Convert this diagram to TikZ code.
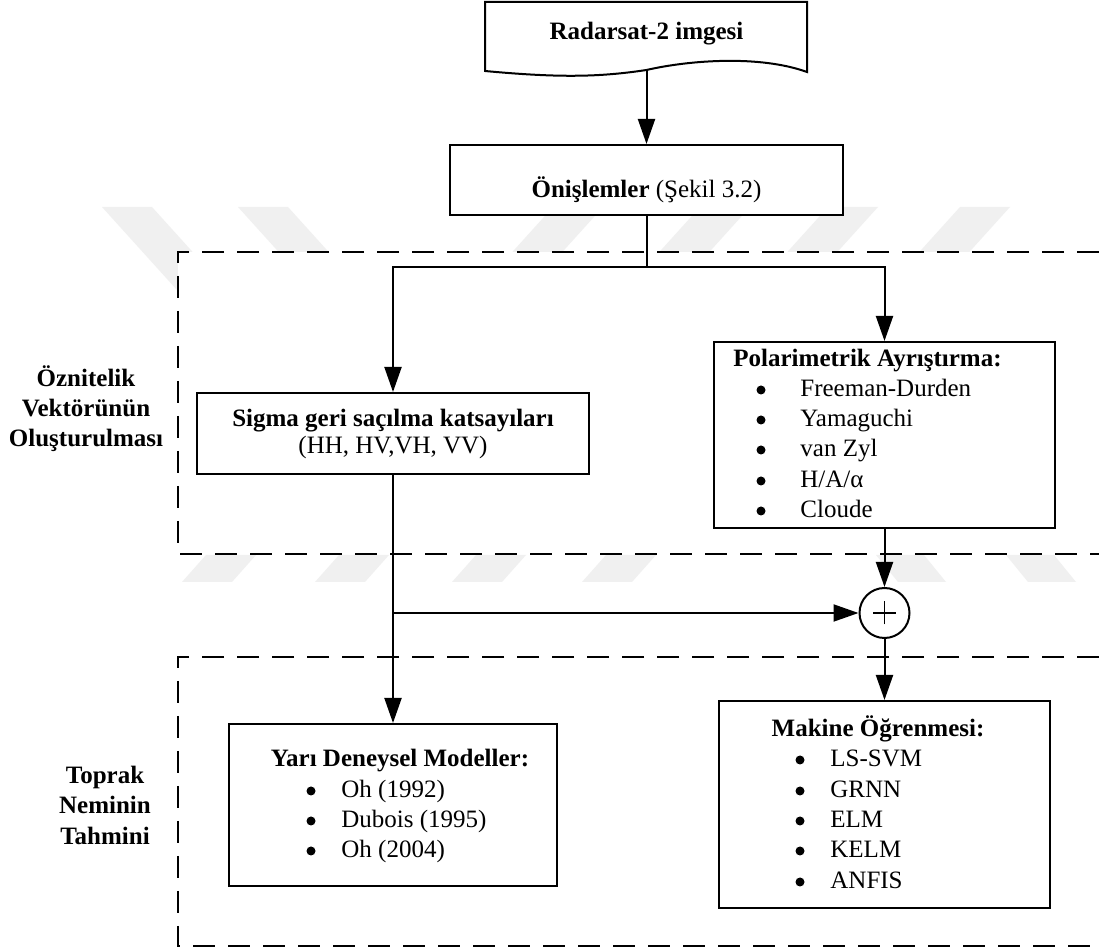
\documentclass[tikz,border=0pt]{standalone}
\usepackage{fontspec}
\setmainfont{Liberation Serif}
\usetikzlibrary{arrows.meta}
\begin{document}
\begin{tikzpicture}[x=0.5pt,y=-0.5pt,
  font=\fontsize{12.5}{15}\selectfont,
  box/.style={draw,line width=1pt,fill=white,inner sep=0pt,rectangle},
  conn/.style={line width=1pt},
  arr/.style={conn,-{Triangle[length=12.5pt,width=8.5pt]}},
  frame/.style={line width=1.4pt,dash pattern=on 11pt off 6.5pt},
  wm/.style={fill=black!6,draw=none},
  lbl/.style={anchor=base,inner sep=0pt,font=\fontsize{12.5}{15}\selectfont\bfseries},
  txt/.style={anchor=base west,inner sep=0pt},
  bul/.style={circle,fill=black,draw=none,inner sep=0pt,minimum size=4.5pt}]
\useasboundingbox[fill=white] (0,0) rectangle (1099,951);

% watermark, top band
\foreach \x in {102,238}
  \fill[wm] (\x,207) -- (\x+50,207) -- (\x+125,290) -- (\x+75,290) -- cycle;
\foreach \x in {553,700,828,960}
  \fill[wm] (\x,207) -- (\x+50,207) -- (\x-25,290) -- (\x-75,290) -- cycle;
\fill[white] (178,252) rectangle (1099,554);
% watermark, bottom band
\foreach \x in {182,315,452,582}
  \fill[wm] (\x,582) -- (\x+50,582) -- (\x+74,555) -- (\x+24,555) -- cycle;
\foreach \x in {876,1006}
  \fill[wm] (\x,555) -- (\x+48,555) -- (\x+70,582) -- (\x+22,582) -- cycle;

% dashed group frames
\draw[frame] (1099,252) -- (178,252) -- (178,554) -- (1099,554);
\draw[frame] (1099,657) -- (178,657) -- (178,946) -- (1099,946);

% Radarsat document shape
\filldraw[fill=white,line width=1pt] (485,71) -- (485,2) -- (807,2) -- (807,72)
  .. controls (760,55) and (690,60) .. (646.5,70)
  .. controls (600,77) and (560,78) .. (485,71) -- cycle;
\coordinate (radbot) at (646.5,70);
\node[lbl] (radtxt) at (646.5,40) {Radarsat-2 imgesi};

% Onislemler
\node[box,minimum width=196.5pt,minimum height=35pt] (oni) at (646.5,180) {};
\node[anchor=base,inner sep=0pt] (onitxt) at (646.5,198) {\textbf{Önişlemler} (Şekil 3.2)};

% Sigma
\node[box,minimum width=196pt,minimum height=40.5pt] (sigma) at (393,433.5) {};
\node[lbl] (sigt) at (393,427) {Sigma geri saçılma katsayıları};
\node[anchor=base,inner sep=0pt] (sigs) at (393,454) {(HH, HV,VH, VV)};

% Polarimetrik
\node[box,minimum width=170.5pt,minimum height=93pt] (polar) at (884.5,435) {};
\node[lbl,anchor=base west] (polt) at (733,367) {Polarimetrik Ayrıştırma:};
\node[bul] (pb1) at (761,390) {};
\node[txt] (pt1) at (800,397) {Freeman-Durden};
\node[bul] (pb2) at (761,420) {};
\node[txt] (pt2) at (800,427) {Yamaguchi};
\node[bul] (pb3) at (761,450) {};
\node[txt] (pt3) at (800,457) {van Zyl};
\node[bul] (pb4) at (761,481) {};
\node[txt] (pt4) at (800,488) {H/A/α};
\node[bul] (pb5) at (761,511) {};
\node[txt] (pt5) at (800,518) {Cloude};

% sum
\node[draw,circle,line width=1pt,minimum size=25pt,inner sep=0pt,fill=white] (sum) at (884.5,613) {};
\draw[line width=0.7pt] ([xshift=-5.75pt]sum.center) -- ([xshift=5.75pt]sum.center);
\draw[line width=0.7pt] ([yshift=-5.75pt]sum.center) -- ([yshift=5.75pt]sum.center);

% Yari deneysel
\node[box,minimum width=164pt,minimum height=81pt] (yari) at (393,805) {};
\node[lbl] (yt) at (400,767) {Yarı Deneysel Modeller:};
\node[bul] (yb1) at (311,791) {};
\node[txt] (yt1) at (341,798) {Oh (1992)};
\node[bul] (yb2) at (311,821) {};
\node[txt] (yt2) at (341,828) {Dubois (1995)};
\node[bul] (yb3) at (311,851) {};
\node[txt] (yt3) at (341,858) {Oh (2004)};

% Makine
\node[box,minimum width=165.5pt,minimum height=103.5pt] (makine) at (884.5,804.5) {};
\node[lbl] (mt) at (878,737) {Makine Öğrenmesi:};
\node[bul] (mb1) at (800,760) {};
\node[txt] (mt1) at (830,767) {LS-SVM};
\node[bul] (mb2) at (800,791) {};
\node[txt] (mt2) at (830,798) {GRNN};
\node[bul] (mb3) at (800,821) {};
\node[txt] (mt3) at (830,828) {ELM};
\node[bul] (mb4) at (800,851) {};
\node[txt] (mt4) at (830,858) {KELM};
\node[bul] (mb5) at (800,882) {};
\node[txt] (mt5) at (830,889) {ANFIS};

% side labels
\node[lbl] (l1) at (86,387) {Öznitelik};
\node[lbl] (l2) at (86,417) {Vektörünün};
\node[lbl] (l3) at (86,447) {Oluşturulması};
\node[lbl] (l4) at (105,784) {Toprak};
\node[lbl] (l5) at (105,814) {Neminin};
\node[lbl] (l6) at (105,845) {Tahmini};

% connectors
\coordinate (split) at (646.5,267);
\draw[arr] (radbot) -- (oni.north);
\draw[conn] (oni.south) -- (split);
\draw[arr] (split) -| (sigma.north);
\draw[arr] (split) -| (polar.north);
\draw[arr] (sigma.south) -- (yari.north);
\draw[arr] (sigma.south |- sum.west) -- (sum.west);
\draw[arr] (polar.south) -- (sum.north);
\draw[arr] (sum.south) -- (makine.north);
\end{tikzpicture}
\end{document}
